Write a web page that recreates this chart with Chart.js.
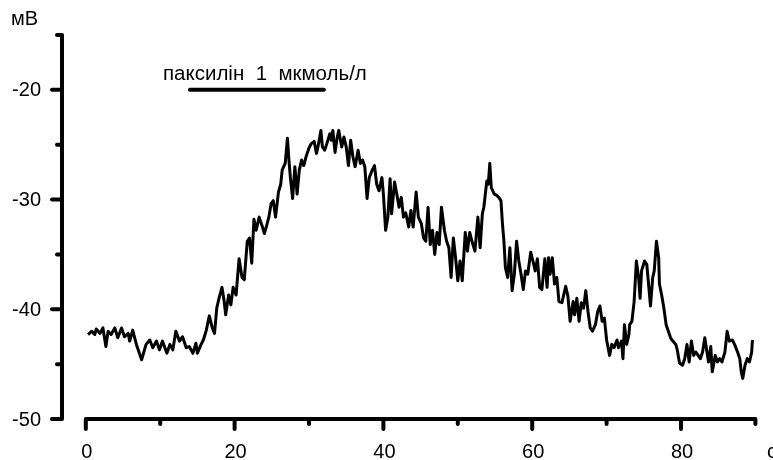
<!DOCTYPE html>
<html>
<head>
<meta charset="utf-8">
<script src="https://cdn.jsdelivr.net/npm/chart.js@4"></script>
<style>
  html, body { margin: 0; padding: 0; background: #fff; }
  #wrap { width: 773px; height: 460px; }
</style>
</head>
<body>
<div id="wrap"><canvas id="trace"></canvas></div>
<script>
// час, с
const times = [
  0.3, 0.8, 1.2, 1.4, 1.9, 2.3, 2.7, 3.0, 3.4, 3.9, 4.3, 4.8, 5.2, 5.7, 5.9, 6.3, 6.8, 7.5, 8.1, 8.6,
  9.0, 9.5, 9.9, 10.3, 10.9, 11.3, 11.7, 12.1, 12.6, 13.0, 13.5, 13.9, 14.4, 14.8, 15.0, 15.5, 15.8, 16.2, 16.6, 17.0,
  17.3, 17.6, 17.9, 18.3, 18.6, 18.8, 19.2, 19.5, 19.8, 20.2, 20.6, 21.0, 21.3, 21.7, 22.0, 22.3, 22.6, 22.9, 23.3, 23.7,
  24.0, 24.3, 24.6, 24.9, 25.2, 25.5, 25.9, 26.2, 26.4, 26.8, 27.1, 27.3, 27.5, 27.8, 28.1, 28.4, 28.7, 29.0, 29.3, 29.6,
  30.0, 30.3, 30.7, 31.0, 31.2, 31.6, 31.8, 32.1, 32.4, 32.8, 33.0, 33.2, 33.5, 33.8, 34.0, 34.4, 34.7, 35.0, 35.3, 35.6,
  35.9, 36.2, 36.6, 36.9, 37.2, 37.5, 37.8, 38.1, 38.5, 38.8, 39.1, 39.4, 39.8, 40.0, 40.3, 40.6, 40.9, 41.1, 41.5, 41.8,
  42.1, 42.4, 42.7, 43.0, 43.4, 43.7, 44.0, 44.4, 44.7, 45.1, 45.4, 45.7, 46.0, 46.3, 46.6, 46.9, 47.2, 47.5, 47.8, 48.2,
  48.5, 48.8, 49.1, 49.4, 49.7, 50.0, 50.3, 50.6, 51.0, 51.3, 51.6, 51.9, 52.3, 52.7, 53.0, 53.3, 53.5, 53.9, 54.1, 54.3,
  54.5, 54.9, 55.2, 55.5, 55.8, 56.0, 56.2, 56.4, 56.7, 57.0, 57.3, 57.6, 57.9, 58.2, 58.5, 58.8, 59.1, 59.4, 59.8, 60.1,
  60.4, 60.7, 61.0, 61.3, 61.7, 62.0, 62.2, 62.4, 62.7, 63.0, 63.3, 63.6, 64.0, 64.5, 64.8, 65.1, 65.5, 65.7, 66.0, 66.3,
  66.6, 66.9, 67.2, 67.5, 67.8, 68.1, 68.5, 68.8, 69.1, 69.4, 69.7, 70.0, 70.4, 70.7, 71.0, 71.4, 71.6, 72.0, 72.2, 72.4,
  72.7, 73.0, 73.1, 73.4, 73.7, 74.0, 74.3, 74.5, 74.7, 75.1, 75.4, 75.6, 75.9, 76.2, 76.4, 76.7, 77.0, 77.1, 77.4, 77.7,
  78.0, 78.3, 78.6, 78.9, 79.3, 79.5, 79.8, 80.2, 80.5, 80.8, 81.1, 81.4, 81.7, 82.0, 82.3, 82.6, 82.9, 83.2, 83.4, 83.7,
  84.0, 84.2, 84.6, 84.9, 85.2, 85.5, 85.9, 86.2, 86.5, 86.9, 87.2, 87.6, 87.9, 88.1, 88.3, 88.6, 88.9, 89.2, 89.5, 89.6
];

// потенціал, мВ
const voltages = [
  -42.3, -42.0, -42.3, -41.8, -42.2, -41.7, -43.4, -42.0, -42.3, -41.7, -42.6, -41.7, -42.5, -42.2, -42.9, -41.9, -43.2, -44.6, -43.2, -42.8,
  -43.5, -42.9, -43.7, -42.9, -44.0, -43.2, -43.7, -42.0, -42.9, -42.5, -43.5, -43.4, -44.0, -43.1, -44.0, -43.2, -42.8, -41.9, -40.6, -41.7,
  -42.2, -39.9, -39.0, -38.0, -39.3, -40.5, -38.7, -39.6, -38.0, -38.7, -35.4, -37.1, -37.3, -33.8, -33.5, -35.8, -31.8, -32.8, -31.6, -32.4,
  -33.1, -32.4, -31.6, -30.4, -30.1, -31.6, -29.3, -28.6, -27.3, -26.7, -24.4, -26.4, -28.0, -29.9, -27.0, -29.5, -27.3, -26.4, -26.9, -26.1,
  -25.3, -24.9, -24.7, -25.8, -25.2, -23.7, -25.2, -25.5, -24.9, -24.0, -24.6, -23.7, -25.7, -24.3, -23.7, -25.2, -24.3, -25.2, -26.9, -24.6,
  -26.1, -27.0, -25.5, -26.7, -26.4, -27.0, -29.9, -28.0, -27.3, -26.9, -28.6, -29.2, -28.0, -29.5, -32.8, -31.6, -28.1, -31.3, -28.4, -29.5,
  -30.7, -29.8, -31.6, -31.2, -32.5, -31.0, -32.5, -29.3, -31.6, -32.2, -33.5, -33.8, -30.7, -34.1, -32.8, -35.0, -33.0, -34.1, -30.7, -32.8,
  -33.8, -34.4, -37.1, -33.5, -35.3, -37.4, -35.6, -37.4, -33.0, -34.7, -33.0, -33.8, -34.7, -31.6, -34.4, -31.3, -30.7, -28.3, -28.6, -26.7,
  -28.9, -29.5, -29.6, -29.8, -30.1, -32.2, -33.8, -36.2, -37.1, -34.4, -38.3, -36.8, -33.8, -35.6, -36.8, -38.2, -36.5, -36.8, -34.8, -35.6,
  -36.5, -35.4, -38.0, -38.2, -35.4, -38.0, -35.3, -36.8, -35.3, -37.7, -37.1, -39.3, -39.4, -37.9, -38.8, -41.1, -39.3, -40.5, -39.0, -41.1,
  -39.4, -39.9, -38.3, -40.2, -41.7, -42.0, -41.4, -40.2, -39.7, -41.1, -40.8, -42.8, -44.2, -43.2, -43.5, -42.8, -43.5, -42.9, -44.5, -41.4,
  -43.2, -42.3, -41.4, -41.1, -39.3, -35.6, -37.1, -39.0, -36.5, -35.6, -35.9, -37.4, -39.7, -37.1, -36.5, -33.8, -35.3, -37.7, -38.7, -39.9,
  -41.4, -42.0, -42.6, -42.9, -43.2, -43.7, -44.9, -45.1, -44.5, -43.2, -44.8, -42.9, -44.2, -43.9, -44.2, -44.5, -43.9, -42.6, -43.5, -44.8,
  -43.4, -45.7, -44.2, -44.8, -44.5, -44.8, -43.9, -42.0, -42.9, -42.8, -43.2, -43.9, -44.5, -45.7, -46.3, -45.1, -44.5, -44.8, -43.9, -42.8
];

const xTicks = [0, 20, 40, 60, 80];
const xMinorTicks = [10, 30, 50, 70, 90];
const yTicks = [-20, -30, -40, -50];
const yMinorTicks = [-15, -25, -35, -45];

// аплікація препарату
const drugLabel = 'паксилін  1  мкмоль/л';
const drugStart = 14;
const drugEnd = 32;
const drugLevel = -20;

const yUnit = 'мВ';
const xUnit = 'с';

const FONT = '"Liberation Sans", Arial, sans-serif';

const axesPlugin = {
  id: 'detachedAxes',
  afterDraw(chart) {
    const ctx = chart.ctx;
    const x = chart.scales.x;
    const y = chart.scales.y;
    const left = chart.chartArea.left;
    const base = y.getPixelForValue(-50);

    ctx.save();
    ctx.strokeStyle = '#000';
    ctx.fillStyle = '#000';
    ctx.lineWidth = 4;
    ctx.lineCap = 'round';

    // вісь Y
    ctx.beginPath();
    ctx.moveTo(left, y.getPixelForValue(-15));
    ctx.lineTo(left, base);
    yTicks.forEach(v => {
      const p = y.getPixelForValue(v);
      ctx.moveTo(left, p);
      ctx.lineTo(left - 10, p);
    });
    yMinorTicks.forEach(v => {
      const p = y.getPixelForValue(v);
      ctx.moveTo(left, p);
      ctx.lineTo(left - 5, p);
    });
    ctx.stroke();

    // вісь X (зміщена)
    ctx.beginPath();
    ctx.moveTo(x.getPixelForValue(0), base);
    ctx.lineTo(x.getPixelForValue(90), base);
    xTicks.forEach(v => {
      const p = x.getPixelForValue(v);
      ctx.moveTo(p, base);
      ctx.lineTo(p, base + 10);
    });
    xMinorTicks.forEach(v => {
      const p = x.getPixelForValue(v);
      ctx.moveTo(p, base);
      ctx.lineTo(p, base + 5);
    });
    ctx.stroke();

    ctx.font = '20px ' + FONT;
    ctx.textAlign = 'right';
    ctx.textBaseline = 'middle';
    yTicks.forEach(v => ctx.fillText(String(v), 41, y.getPixelForValue(v) + 1));

    ctx.textAlign = 'center';
    ctx.textBaseline = 'top';
    xTicks.forEach(v => ctx.fillText(String(v), x.getPixelForValue(v) + 1, 442));

    ctx.textAlign = 'left';
    ctx.fillText(xUnit, 767, 442);

    ctx.font = '20px ' + FONT;
    ctx.textBaseline = 'middle';
    ctx.fillText(yUnit, 11, 19);

    ctx.font = '20.5px ' + FONT;
    ctx.textBaseline = 'alphabetic';
    ctx.fillText(drugLabel, 163, 80);
    ctx.restore();
  }
};

new Chart(
  document.getElementById('trace'),
  {
    type: 'line',
    data: {
      datasets: [
        {
          data: times.map((t, i) => ({ x: t, y: voltages[i] })),
          borderColor: '#000',
          borderWidth: 3,
          borderJoinStyle: 'round',
          pointRadius: 0,
          tension: 0
        },
        {
          data: [{ x: drugStart, y: drugLevel }, { x: drugEnd, y: drugLevel }],
          borderColor: '#000',
          borderWidth: 4,
          borderCapStyle: 'round',
          pointRadius: 0
        }
      ]
    },
    options: {
      responsive: true,
      maintainAspectRatio: false,
      animation: false,
      layout: {
        padding: { left: 62, right: 17.6, top: 35, bottom: 41 }
      },
      scales: {
        x: { type: 'linear', min: -3.2, max: 90, display: false },
        y: { min: -50, max: -15, display: false }
      },
      plugins: {
        legend: { display: false },
        tooltip: { enabled: false }
      }
    },
    plugins: [axesPlugin]
  }
);
</script>
</body>
</html>
